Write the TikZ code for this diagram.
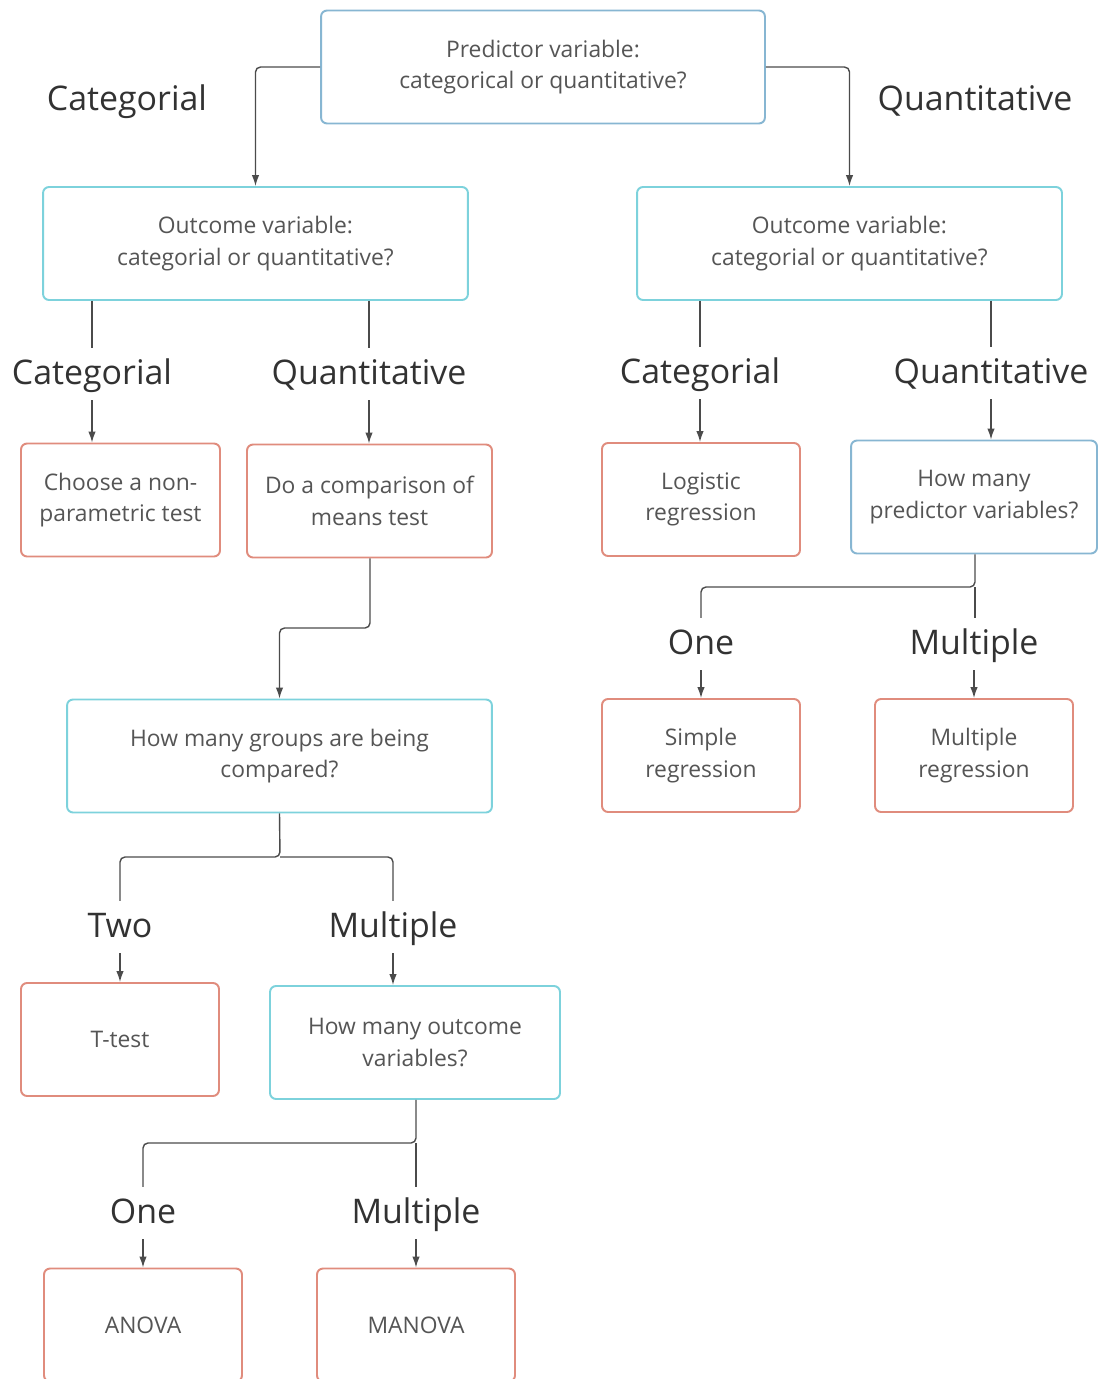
\documentclass[tikz,border=0pt]{standalone}
\usepackage{fontspec}
\setmainfont{Open Sans}
\usetikzlibrary{arrows.meta}

\definecolor{boxcyan}{RGB}{125,210,220}
\definecolor{boxblue}{RGB}{135,182,210}
\definecolor{boxred}{RGB}{224,140,125}
\definecolor{linegray}{RGB}{75,75,75}
\definecolor{textgray}{RGB}{85,85,85}
\definecolor{labelgray}{RGB}{50,50,50}

\begin{document}
\begin{tikzpicture}[x=0.02cm, y=-0.02cm,
    boxbase/.style={line width=1.1pt, rounded corners=0.12cm, fill=white,
      align=center, text=textgray, font=\fontsize{13}{18}\selectfont,
      minimum height=2.26cm, inner sep=2pt},
    qbox/.style={boxbase, draw=boxcyan},
    pbox/.style={boxbase, draw=boxblue},
    abox/.style={boxbase, draw=boxred},
    choice/.style={font=\fontsize{19.3}{22}\selectfont, text=labelgray,
      text height=0.62cm, text depth=0.2cm, inner sep=3pt},
    link/.style={draw=linegray, line width=0.8pt, rounded corners=0.1cm},
    >={Latex[length=2.2mm,width=1.5mm]}]

  % --- Rahmen (Bild endet unten abgeschnitten) ---
  \clip (0,0) rectangle (1099,1379);

  % --- Fragen-Boxen ---
  \node[pbox, minimum width=8.88cm] (pred)   at (543,67)     {Predictor variable:\\categorical or quantitative?};
  \node[qbox, minimum width=8.5cm]  (outL)   at (255.5,243.5) {Outcome variable:\\categorial or quantitative?};
  \node[qbox, minimum width=8.5cm]  (outR)   at (849.5,243.5) {Outcome variable:\\categorial or quantitative?};
  \node[pbox, minimum width=4.92cm] (predn)  at (974,497)     {How many\\predictor variables?};
  \node[qbox, minimum width=8.5cm]  (groups) at (279.5,756)   {How many groups are being\\compared?};
  \node[qbox, minimum width=5.8cm]  (outn)   at (415,1042.5)  {How many outcome\\variables?};

  % --- Ergebnis-Boxen ---
  \node[abox, minimum width=3.98cm] (nonpar)  at (120.5,500)  {Choose a non-\\parametric test};
  \node[abox, minimum width=4.9cm]  (comp)    at (369.5,501)  {Do a comparison of\\means test};
  \node[abox, minimum width=3.96cm] (logit)   at (701,499.5)  {Logistic\\regression};
  \node[abox, minimum width=3.96cm] (simple)  at (701,755.5)  {Simple\\regression};
  \node[abox, minimum width=3.96cm] (multreg) at (974,755.5)  {Multiple\\regression};
  \node[abox, minimum width=3.96cm] (ttest)   at (120,1039.5) {T-test};
  \node[abox, minimum width=3.96cm] (anova)   at (143,1325)   {ANOVA};
  \node[abox, minimum width=3.96cm] (manova)  at (416,1325)   {MANOVA};

  % --- Antworten ---
  \node[choice] (catTop)  at (127,100)  {Categorial};
  \node[choice] (quanTop) at (975,100)  {Quantitative};
  \node[choice] (catL)    at (92,374)   {Categorial};
  \node[choice] (quanL)   at (369,374)  {Quantitative};
  \node[choice] (catR)    at (700,373)  {Categorial};
  \node[choice] (quanR)   at (991,373)  {Quantitative};
  \node[choice] (oneP)    at (701,644)  {One};
  \node[choice] (multP)   at (974,644)  {Multiple};
  \node[choice] (two)     at (120,927)  {Two};
  \node[choice] (multG)   at (393,927)  {Multiple};
  \node[choice] (oneO)    at (143,1213) {One};
  \node[choice] (multO)   at (416,1213) {Multiple};

  % --- Verzweigungspunkte ---
  \coordinate (compbend) at (370,628);
  \coordinate (grpsplit) at (280,857);
  \coordinate (prdsplit) at (975,587);
  \coordinate (outsplit) at (416,1143);

  % --- Verbindungen oben ---
  \draw[link, ->] (pred.west) -| (outL.north);
  \draw[link, ->] (pred.east) -| (outR.north);

  % --- Outcome links ---
  \draw[link] (outL.south -| catL.north) -- (catL.north);
  \draw[link, ->] (catL.south) -- (catL.south |- nonpar.north);
  \draw[link] (outL.south -| quanL.north) -- (quanL.north);
  \draw[link, ->] (quanL.south) -- (quanL.south |- comp.north);

  % --- Outcome rechts ---
  \draw[link] (outR.south -| catR.north) -- (catR.north);
  \draw[link, ->] (catR.south) -- (catR.south |- logit.north);
  \draw[link] (outR.south -| quanR.north) -- (quanR.north);
  \draw[link, ->] (quanR.south) -- (quanR.south |- predn.north);

  % --- Anzahl Prädiktoren ---
  \draw[link] (predn.south -| prdsplit) -- (prdsplit) -| (oneP.north);
  \draw[link] (prdsplit) -- (prdsplit |- multP.north);
  \draw[link, ->] (oneP.south) -- (oneP.south |- simple.north);
  \draw[link, ->] (multP.south) -- (multP.south |- multreg.north);

  % --- Mittelwertvergleich ---
  \draw[link, ->] (comp.south -| compbend) -- (compbend) -| (groups.north);
  \draw[link] (groups.south) -- (grpsplit) -| (two.north);
  \draw[link] (grpsplit) -| (multG.north);
  \draw[link, ->] (two.south) -- (two.south |- ttest.north);
  \draw[link, ->] (multG.south) -- (multG.south |- outn.north);

  % --- Anzahl Outcomes ---
  \draw[link] (outn.south -| outsplit) -- (outsplit) -| (oneO.north);
  \draw[link] (outsplit) -- (outsplit |- multO.north);
  \draw[link, ->] (oneO.south) -- (oneO.south |- anova.north);
  \draw[link, ->] (multO.south) -- (multO.south |- manova.north);

\end{tikzpicture}
\end{document}
